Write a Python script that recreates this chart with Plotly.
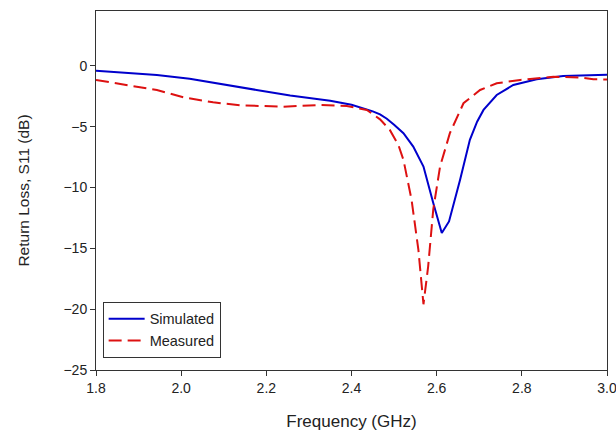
import plotly.graph_objects as go

sim_f = [1.80, 1.943, 2.02, 2.099, 2.177, 2.256, 2.35, 2.40, 2.428, 2.45, 2.467, 2.483, 2.50,
         2.522, 2.545, 2.569, 2.592, 2.612, 2.629, 2.655, 2.678, 2.695, 2.710, 2.741, 2.780,
         2.835, 2.897, 2.95, 3.0]
sim_s11 = [-0.41, -0.76, -1.06, -1.5, -1.99, -2.45, -2.87, -3.2, -3.50, -3.75, -4.0, -4.35,
           -4.85, -5.54, -6.64, -8.28, -11.28, -13.74, -12.79, -9.37, -6.09, -4.6, -3.63,
           -2.40, -1.58, -1.11, -0.84, -0.78, -0.74]

meas_f = [1.80, 1.88, 1.943, 2.005, 2.075, 2.138, 2.24, 2.326, 2.389, 2.436, 2.467, 2.49,
          2.51, 2.522, 2.541, 2.557, 2.569, 2.580, 2.592, 2.608, 2.631, 2.663, 2.702, 2.741,
          2.796, 2.874, 2.937, 2.968, 3.0]
meas_s11 = [-1.17, -1.6, -1.99, -2.59, -3.0, -3.25, -3.36, -3.22, -3.3, -3.63, -4.40, -5.27,
            -6.5, -7.73, -11.0, -15.1, -19.6, -16.5, -11.8, -8.28, -5.54, -3.08, -1.99, -1.44,
            -1.17, -0.90, -0.96, -1.11, -1.13]

x_ticks = [1.8, 2.0, 2.2, 2.4, 2.6, 2.8, 3.0]
x_labels = ["1.8", "2.0", "2.2", "2.4", "2.6", "2.8", "3.0"]
y_ticks = [0, -5, -10, -15, -20, -25]

fig = go.Figure()
fig.add_trace(go.Scatter(x=sim_f, y=sim_s11, mode="lines", name="Simulated",
                         line=dict(color="#0000CC", width=2)))
fig.add_trace(go.Scatter(x=meas_f, y=meas_s11, mode="lines", name="Measured",
                         line=dict(color="#DD1111", width=2, dash="13px,6px")))

axis_common = dict(showline=True, linecolor="#333333", linewidth=1, mirror=True,
                   ticks="outside", ticklen=5, tickcolor="#333333", showgrid=False,
                   zeroline=False, automargin=False, ticklabeloverflow="allow",
                   tickfont=dict(size=14, color="#222222"))

fig.update_layout(
    width=616, height=432, autosize=False,
    margin=dict(l=96, r=9, t=11, b=62),
    paper_bgcolor="white", plot_bgcolor="white",
    font=dict(family="Liberation Sans, Arial, sans-serif", color="#222222"),
    xaxis=dict(range=[1.8, 3.0], tickvals=x_ticks, ticktext=x_labels,
               title=dict(text="Frequency (GHz)", font=dict(size=17), standoff=20),
               **axis_common),
    yaxis=dict(range=[-25, 4.5], tickvals=y_ticks,
               title=dict(text="Return Loss, S11 (dB)", font=dict(size=15.5), standoff=30),
               **axis_common),
    legend=dict(x=0.013, y=0.034, xanchor="left", yanchor="bottom",
                bordercolor="#333333", borderwidth=1, bgcolor="white",
                font=dict(size=14.5, color="#222222"), itemwidth=36,
                tracegroupgap=0),
    showlegend=True,
)

fig.write_html("out.html", config={"displayModeBar": False},
               post_script="document.body.style.margin='0';document.body.style.overflow='hidden';")
